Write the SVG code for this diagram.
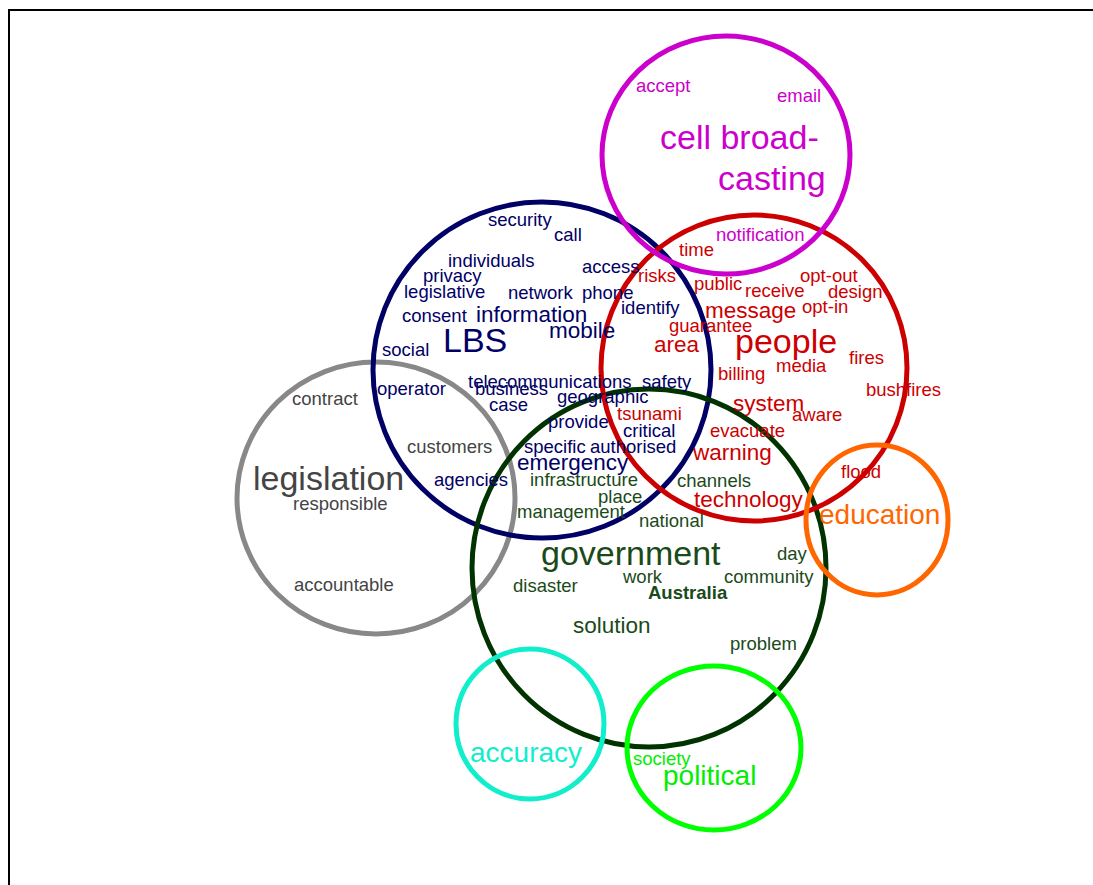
<svg xmlns="http://www.w3.org/2000/svg" width="1093" height="885" viewBox="0 0 1093 885">
<style>
text{font-family:"Liberation Sans",Arial,Helvetica,sans-serif}
.s{font-size:18.5px}.m{font-size:22.5px}.x{font-size:28px}.l{font-size:34px}
.b{font-weight:bold}
ellipse{fill:none;stroke-width:5}
.cm{stroke:#CC00CC}.tm{fill:#CC00CC}
.cr{stroke:#CC0000}.tr{fill:#CC0000}
.cn{stroke:#000066}.tn{fill:#000066}
.cg{stroke:#888888}.tg{fill:#444444}
.cd{stroke:#003300}.td{fill:#1a4a1a}
.co{stroke:#FF6600}.to{fill:#FF6600}
.cc{stroke:#11EECC}.tc{fill:#11EECC}
.cl{stroke:#00FF00}.tl{fill:#00EE00}
</style>
<rect x="0" y="0" width="1093" height="885" fill="#ffffff"/>
<path d="M9 885V10H1093" fill="none" stroke="#000" stroke-width="2"/>
<g id="circles">
<ellipse class="cg" cx="376" cy="498" rx="139" ry="136"/>
<ellipse class="cn" cx="542" cy="370" rx="169" ry="168"/>
<ellipse class="cd" cx="649" cy="568" rx="177" ry="179"/>
<ellipse class="cr" cx="754" cy="368" rx="153" ry="153"/>
<ellipse class="cm" cx="726" cy="155" rx="124" ry="119"/>
<ellipse class="co" cx="877" cy="520" rx="71" ry="75"/>
<ellipse class="cc" cx="530" cy="724" rx="74" ry="75"/>
<ellipse class="cl" cx="714" cy="748" rx="87" ry="82"/>
</g>
<g id="node-cell-broadcasting" class="tm">
<text class="s" x="636" y="92">accept</text>
<text class="s" x="777" y="102">email</text>
<text class="l" x="660" y="149">cell broad-</text>
<text class="l" x="718" y="190">casting</text>
<text class="s" x="716" y="241">notification</text>
</g>
<g id="node-people" class="tr">
<text class="s" x="679" y="256">time</text>
<text class="s" x="638" y="282">risks</text>
<text class="s" x="694" y="290">public</text>
<text class="s" x="745" y="297">receive</text>
<text class="s" x="800" y="282">opt-out</text>
<text class="s" x="828" y="298">design</text>
<text class="s" x="802" y="313">opt-in</text>
<text class="m" x="705" y="318">message</text>
<text class="s" x="669" y="332">guarantee</text>
<text class="m" x="654" y="352">area</text>
<text class="l" x="735" y="353">people</text>
<text class="s" x="849" y="364">fires</text>
<text class="s" x="776" y="372">media</text>
<text class="s" x="718" y="380">billing</text>
<text class="s" x="866" y="396">bushfires</text>
<text class="m" x="733" y="411">system</text>
<text class="s" x="792" y="421">aware</text>
<text class="s" x="617" y="420">tsunami</text>
<text class="s" x="710" y="437">evacuate</text>
<text class="m" x="693" y="460">warning</text>
<text class="m" x="694" y="507">technology</text>
<text class="s" x="841" y="478">flood</text>
</g>
<g id="node-lbs" class="tn">
<text class="s" x="488" y="226">security</text>
<text class="s" x="554" y="241">call</text>
<text class="s" x="448" y="267">individuals</text>
<text class="s" x="582" y="273">access</text>
<text class="s" x="423" y="282">privacy</text>
<text class="s" x="404" y="298">legislative</text>
<text class="s" x="508" y="299">network</text>
<text class="s" x="582" y="299">phone</text>
<text class="s" x="621" y="314">identify</text>
<text class="s" x="402" y="322">consent</text>
<text class="m" x="476" y="322">information</text>
<text class="m" x="549" y="338">mobile</text>
<text class="l" x="443" y="352">LBS</text>
<text class="s" x="382" y="356">social</text>
<text class="s" x="377" y="395">operator</text>
<text class="s" x="468" y="388">telecommunications</text>
<text class="s" x="475" y="395">business</text>
<text class="s" x="642" y="388">safety</text>
<text class="s" x="489" y="411">case</text>
<text class="s" x="557" y="403">geographic</text>
<text class="s" x="548" y="428">provide</text>
<text class="s" x="623" y="437">critical</text>
<text class="s" x="524" y="453">specific</text>
<text class="s" x="590" y="453">authorised</text>
<text class="m" x="517" y="470">emergency</text>
<text class="s" x="434" y="486">agencies</text>
</g>
<g id="node-legislation" class="tg">
<text class="s" x="292" y="405">contract</text>
<text class="s" x="407" y="453">customers</text>
<text class="l" x="253" y="490">legislation</text>
<text class="s" x="293" y="510">responsible</text>
<text class="s" x="294" y="591">accountable</text>
</g>
<g id="node-government" class="td">
<text class="s" x="530" y="486">infrastructure</text>
<text class="s" x="677" y="487">channels</text>
<text class="s" x="598" y="503">place</text>
<text class="s" x="517" y="518">management</text>
<text class="s" x="639" y="527">national</text>
<text class="l" x="541" y="565">government</text>
<text class="s" x="777" y="560">day</text>
<text class="s" x="623" y="583">work</text>
<text class="s" x="724" y="583">community</text>
<text class="s" x="513" y="592">disaster</text>
<text class="s b" x="648" y="599">Australia</text>
<text class="m" x="573" y="633">solution</text>
<text class="s" x="730" y="650">problem</text>
</g>
<g id="node-education" class="to">
<text class="x" x="819" y="524">education</text>
</g>
<g id="node-accuracy" class="tc">
<text class="x" x="470" y="762">accuracy</text>
</g>
<g id="node-political" class="tl">
<text class="s" x="633" y="765">society</text>
<text class="x" x="663" y="785">political</text>
</g>
<g id="connectors"/>
</svg>
